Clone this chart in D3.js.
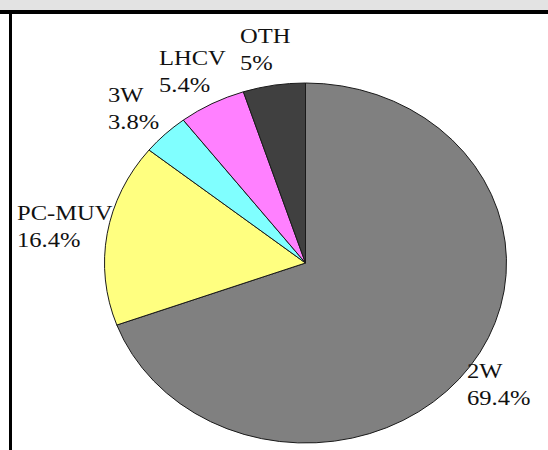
<!DOCTYPE html>
<html>
<head>
<meta charset="utf-8">
<script src="https://cdn.jsdelivr.net/npm/d3@7"></script>
<style>
  html, body { margin: 0; padding: 0; background: #fff; }
  svg { display: block; }
</style>
</head>
<body>
<script>
// chart data
const categories = ['2W', 'PC-MUV', '3W', 'LHCV', 'OTH'];
const shares = [69.4, 16.4, 3.8, 5.4, 5];
const colors = ['#808080', '#ffff80', '#80ffff', '#ff80ff', '#404040'];
const labels = ['69.4%', '16.4%', '3.8%', '5.4%', '5%'];

// label anchors (layout only)
const labelPos = [[467, 378], [17, 220], [108, 102], [159, 65], [240, 43]];

const W = 548, H = 450;
const cx = 305.5, cy = 263;
const ry = 180, rx = 201;
const sx = rx / ry;
const lineGap = 27;
const fontSize = 22;

const svg = d3.select('body')
    .append('svg')
    .attr('width', W)
    .attr('height', H);

// page background + frame
svg.append('rect').attr('width', W).attr('height', H).attr('fill', '#fff');
svg.append('rect').attr('x', 0).attr('y', 0).attr('width', W).attr('height', 10).attr('fill', '#e3e3e3');
svg.append('rect').attr('x', 0).attr('y', 10).attr('width', W).attr('height', 4).attr('fill', '#000');
svg.append('rect').attr('x', 9).attr('y', 10).attr('width', 3).attr('height', H - 10).attr('fill', '#000');

const pie = d3.pie().sort(null).value(d => d)(shares);
const arc = d3.arc().innerRadius(0).outerRadius(ry);

const g = svg.append('g')
    .attr('transform', `translate(${cx},${cy}) scale(${sx},1)`);

g.selectAll('path')
    .data(pie)
    .enter()
    .append('path')
    .attr('d', arc)
    .attr('fill', (d, i) => colors[i])
    .attr('stroke', '#1a1a1a')
    .attr('stroke-width', 1)
    .attr('vector-effect', 'non-scaling-stroke');

const lab = svg.selectAll('g.lab')
    .data(categories)
    .enter()
    .append('g')
    .attr('class', 'lab')
    .attr('transform', (d, i) => `translate(${labelPos[i][0]},${labelPos[i][1]}) scale(${sx},1)`);

lab.append('text')
    .attr('font-family', '"Liberation Serif", "Times New Roman", serif')
    .attr('font-size', fontSize)
    .attr('fill', '#111')
    .text(d => d);

lab.append('text')
    .attr('y', lineGap)
    .attr('font-family', '"Liberation Serif", "Times New Roman", serif')
    .attr('font-size', fontSize)
    .attr('fill', '#111')
    .text((d, i) => labels[i]);
</script>
</body>
</html>
